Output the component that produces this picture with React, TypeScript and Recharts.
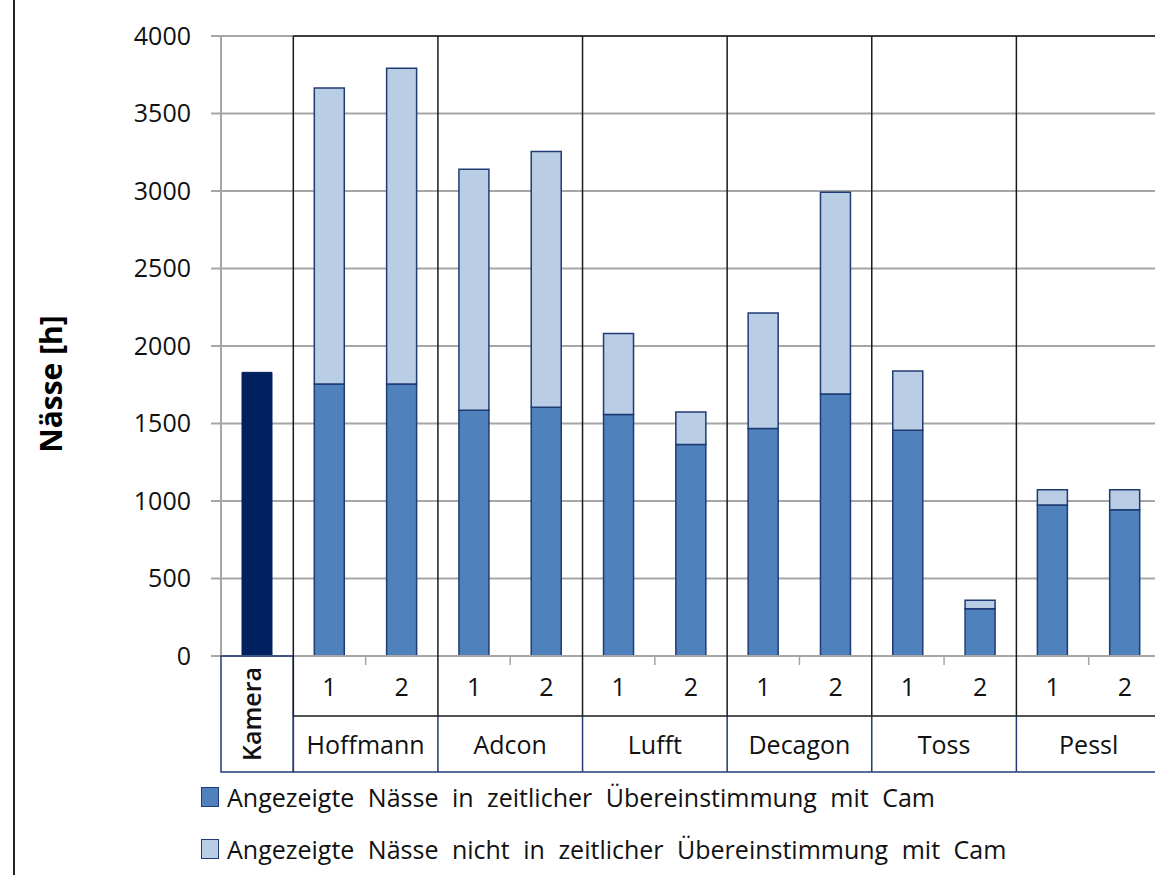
import { ComposedChart, Bar, XAxis, YAxis, CartesianGrid, Legend } from 'recharts'

const GROUPS = ['Hoffmann', 'Adcon', 'Lufft', 'Decagon', 'Toss', 'Pessl']
const SUBS = ['1', '2']
const KAMERA_LABEL = 'Kamera'
const KAMERA = 1830
// Hoffmann 1, Hoffmann 2, Adcon 1, ... Pessl 2
const MATCH = [1755, 1755, 1585, 1605, 1558, 1365, 1468, 1690, 1457, 305, 975, 943]
const NOMATCH = [1910, 2037, 1555, 1650, 522, 210, 745, 1302, 381, 55, 97, 129]
const Y_TICKS = [0, 500, 1000, 1500, 2000, 2500, 3000, 3500, 4000]
const NAME_MATCH = 'Angezeigte Nässe in zeitlicher Übereinstimmung mit Cam'
const NAME_NOMATCH = 'Angezeigte Nässe nicht in zeitlicher Übereinstimmung mit Cam'

const FONT = '"Open Sans", sans-serif'
const NAVY = '#1F3B73'
const GRID = '#A6A6A6'
const LINE = '#1A1A1A'

const W = 1165
const H = 875
const PLOT_LEFT = 221
const PLOT_TOP = 36
const PLOT_W = 940
const AXIS_Y = 656
const ROW_Y = 716
const TABLE_BOTTOM = 772

const cats = [
  { id: KAMERA_LABEL, group: '', sub: '' },
  ...GROUPS.flatMap(g => SUBS.map(s => ({ id: `${g} ${s}`, group: g, sub: s }))),
]
const BAND = PLOT_W / cats.length

const data = cats.map((c, i) => ({
  id: c.id,
  kamera: i === 0 ? KAMERA : undefined,
  match: i > 0 ? MATCH[i - 1] : undefined,
  nomatch: i > 0 ? NOMATCH[i - 1] : undefined,
}))

// draws the two-row category table under the axis plus the group boxes above it
function CategoryTick(props: any) {
  const { x, payload } = props
  const idx = typeof payload.index === 'number' ? payload.index : cats.findIndex(c => c.id === payload.value)
  const cat = cats[idx]
  const left = x - BAND / 2
  const text = { fontFamily: FONT, fontSize: 25, fill: '#111' }

  if (idx === 0) {
    return (
      <g>
        <rect x={left} y={AXIS_Y} width={BAND} height={TABLE_BOTTOM - AXIS_Y} fill="none" stroke={NAVY} strokeWidth={1.5} />
        <text
          {...text}
          fontWeight={600}
          x={x - 6}
          y={(AXIS_Y + TABLE_BOTTOM) / 2}
          textAnchor="middle"
          dominantBaseline="central"
          transform={`rotate(-90 ${x - 6} ${(AXIS_Y + TABLE_BOTTOM) / 2})`}
        >
          {KAMERA_LABEL}
        </text>
      </g>
    )
  }

  const first = cat.sub === SUBS[0]
  return (
    <g>
      <text {...text} x={x} y={(AXIS_Y + ROW_Y) / 2} textAnchor="middle" dominantBaseline="central">
        {cat.sub}
      </text>
      {first && (
        <g>
          <line x1={left} x2={left} y1={PLOT_TOP} y2={ROW_Y} stroke={LINE} strokeWidth={1.5} />
          <line x1={left} x2={left} y1={ROW_Y} y2={TABLE_BOTTOM} stroke={NAVY} strokeWidth={1.5} />
          <line x1={left} x2={left + 2 * BAND} y1={PLOT_TOP} y2={PLOT_TOP} stroke={LINE} strokeWidth={1.5} />
          <line x1={left} x2={left + 2 * BAND} y1={ROW_Y} y2={ROW_Y} stroke={LINE} strokeWidth={1.5} />
          <line x1={left} x2={left + 2 * BAND} y1={TABLE_BOTTOM} y2={TABLE_BOTTOM} stroke={NAVY} strokeWidth={1.5} />
          <line x1={x + BAND / 2} x2={x + BAND / 2} y1={AXIS_Y} y2={AXIS_Y + 9} stroke={GRID} strokeWidth={1.5} />
          <text {...text} x={x + BAND / 2} y={(ROW_Y + TABLE_BOTTOM) / 2} textAnchor="middle" dominantBaseline="central">
            {cat.group}
          </text>
        </g>
      )}
    </g>
  )
}

function AxisTitle() {
  const cx = 50
  const cy = 384
  return (
    <text
      x={cx}
      y={cy}
      textAnchor="middle"
      dominantBaseline="central"
      transform={`rotate(-90 ${cx} ${cy})`}
      style={{ fontFamily: FONT, fontSize: 30, fontWeight: 700, fill: '#000' }}
    >
      Nässe [h]
    </text>
  )
}

function LegendList({ payload }: any) {
  const items = (payload || []).filter((p: any) => p.type !== 'none')
  return (
    <div style={{ fontFamily: FONT, fontSize: 25, color: '#111' }}>
      {items.map((p: any) => (
        <div key={p.value} style={{ display: 'flex', alignItems: 'center', height: 52 }}>
          <span
            style={{
              display: 'inline-block',
              width: 16,
              height: 18,
              background: p.color,
              border: `1.5px solid ${NAVY}`,
              marginRight: 8,
            }}
          />
          <span style={{ wordSpacing: 7 }}>{p.value}</span>
        </div>
      ))}
    </div>
  )
}

export default function App() {
  return (
    <div style={{ position: 'fixed', left: 0, top: 0, width: 1155, height: 875, overflow: 'hidden', background: '#fff' }}>
      <div style={{ position: 'absolute', left: 13, top: 0, width: 1.5, height: H, background: '#222' }} />
      <ComposedChart
        width={W}
        height={H}
        data={data}
        margin={{ top: PLOT_TOP, right: W - PLOT_LEFT - PLOT_W, left: 0, bottom: H - TABLE_BOTTOM }}
      >
        <CartesianGrid vertical={false} stroke={GRID} strokeWidth={2} />
        <XAxis
          dataKey="id"
          interval={0}
          height={TABLE_BOTTOM - AXIS_Y}
          tickLine={false}
          axisLine={{ stroke: GRID, strokeWidth: 2 }}
          tick={<CategoryTick />}
        />
        <YAxis
          width={PLOT_LEFT}
          domain={[0, 4000]}
          ticks={Y_TICKS}
          tickSize={10}
          tickMargin={20}
          axisLine={{ stroke: GRID, strokeWidth: 2 }}
          tickLine={{ stroke: GRID, strokeWidth: 2 }}
          tick={{ fontFamily: FONT, fontSize: 25, fill: '#111' }}
          label={{ content: <AxisTitle /> }}
        />
        <Bar dataKey="kamera" stackId="s" barSize={30} fill="#002060" stroke="#002060" legendType="none" isAnimationActive={false} />
        <Bar dataKey="match" name={NAME_MATCH} stackId="s" barSize={30} fill="#4F81BD" stroke={NAVY} strokeWidth={1.5} isAnimationActive={false} />
        <Bar dataKey="nomatch" name={NAME_NOMATCH} stackId="s" barSize={30} fill="#B9CDE5" stroke={NAVY} strokeWidth={1.5} isAnimationActive={false} />
        <Legend
          layout="vertical"
          align="center"
          verticalAlign="middle"
          content={<LegendList />}
          wrapperStyle={{ top: 771, left: 201, width: 940, height: 104 }}
        />
      </ComposedChart>
    </div>
  )
}
